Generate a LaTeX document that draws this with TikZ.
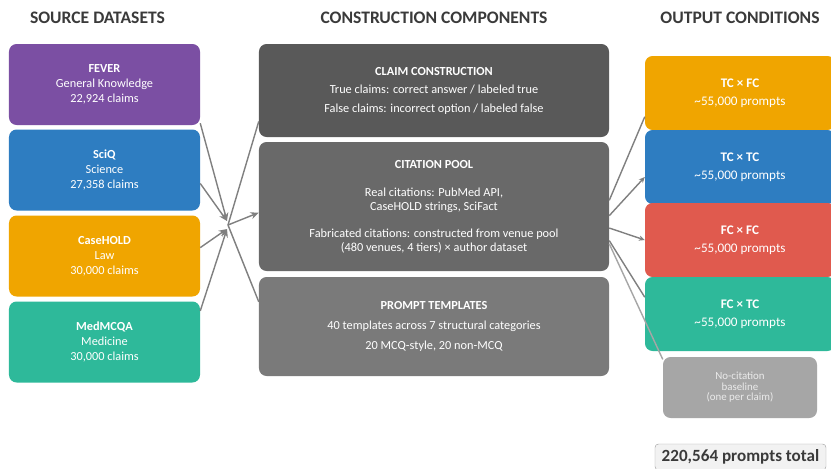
\documentclass[tikz,border=0pt]{standalone}
\usepackage{fontspec}
\setmainfont{Carlito}
\usetikzlibrary{arrows.meta}

\definecolor{headcol}{RGB}{58,58,58}
\definecolor{fevercol}{RGB}{123,79,163}
\definecolor{sciqcol}{RGB}{46,125,193}
\definecolor{casecol}{RGB}{240,165,0}
\definecolor{medcol}{RGB}{46,185,154}
\definecolor{fccol}{RGB}{224,90,78}
\definecolor{claimcol}{RGB}{89,89,89}
\definecolor{citecol}{RGB}{105,105,105}
\definecolor{promptcol}{RGB}{122,122,122}
\definecolor{basecol}{RGB}{166,166,166}
\definecolor{linecol}{RGB}{128,128,128}

\begin{document}
\begin{tikzpicture}[x=0.03cm,y=-0.03cm,
    box/.style={rounded corners=6.5pt,inner sep=0pt,align=center,text=white,
      font=\fontsize{10.5}{12.8}\selectfont},
    srcbox/.style={box,minimum width=5.73cm,minimum height=2.43cm},
    compbox/.style={box,minimum width=10.5cm},
    outbox/.style={box,minimum width=5.7cm,minimum height=2.22cm,
      font=\fontsize{11.2}{15.4}\selectfont},
    head/.style={text=headcol,font=\bfseries\fontsize{15}{18}\selectfont},
    flow/.style={draw=linecol,line width=1.2pt},
    flowarr/.style={flow,-{Stealth[length=7pt,width=6pt]}},
    smallarr/.style={flow,-{Stealth[length=5pt,width=4.5pt]}}]
  \useasboundingbox (0,0) rectangle (831,468);%
  \fill[white] (0,0) rectangle (831,468);%

  % column headings
  \node[head] (hsrc) at (97.5,18) {SOURCE DATASETS};%
  \node[head] (hcomp) at (434,18) {CONSTRUCTION COMPONENTS};%
  \node[head] (hout) at (740,18) {OUTPUT CONDITIONS};%

  % source datasets
  \node[srcbox,fill=fevercol] (fever) at (104.5,84.5) {\textbf{FEVER}\\General Knowledge\\22,924 claims};%
  \node[srcbox,fill=sciqcol] (sciq) at (104.5,170) {\textbf{SciQ}\\Science\\27,358 claims};%
  \node[srcbox,fill=casecol] (casehold) at (104.5,256) {\textbf{CaseHOLD}\\Law\\30,000 claims};%
  \node[srcbox,fill=medcol] (medmcqa) at (104.5,342) {\textbf{MedMCQA}\\Medicine\\30,000 claims};%

  % construction components
  \node[compbox,fill=claimcol,minimum height=2.79cm] (claim) at (434,90.5)
    {\textbf{CLAIM CONSTRUCTION}\\[3pt]True claims: correct answer / labeled true\\[3pt]False claims: incorrect option / labeled false};%
  \node[compbox,fill=citecol,minimum height=3.87cm,font=\fontsize{10.5}{12}\selectfont] (cite) at (434,206.5)
    {\textbf{CITATION POOL}\\[12pt]Real citations: PubMed API,\\CaseHOLD strings, SciFact\\[11pt]Fabricated citations: constructed from venue pool\\(480 venues, 4 tiers) × author dataset};%
  \node[compbox,fill=promptcol,minimum height=2.97cm] (prompt) at (434,326.5)
    {\textbf{PROMPT TEMPLATES}\\[4pt]40 templates across 7 structural categories\\[4pt]20 MCQ-style, 20 non-MCQ};%

  % output conditions
  \node[outbox,fill=casecol] (tcfc) at (740,93) {\textbf{TC × FC}\\\textasciitilde 55,000 prompts};%
  \node[outbox,fill=sciqcol] (tctc) at (740,167) {\textbf{TC × TC}\\\textasciitilde 55,000 prompts};%
  \node[outbox,fill=fccol] (fcfc) at (740,240) {\textbf{FC × FC}\\\textasciitilde 55,000 prompts};%
  \node[outbox,fill=medcol] (fctc) at (740,314) {\textbf{FC × TC}\\\textasciitilde 55,000 prompts};%
  \node[box,fill=basecol,minimum width=4.62cm,minimum height=1.83cm,text=white!92!black,
    font=\fontsize{9.3}{9}\selectfont] (base) at (740,387.5) {No-citation\\baseline\\(one per claim)};%

  \node[draw=basecol,fill=white!95!black,rounded corners=3pt,minimum width=5.13cm,minimum height=0.78cm,
    inner sep=0pt,text=headcol,font=\bfseries\fontsize{14.6}{16}\selectfont] (total) at (740.5,457) {220,564 prompts total};%

  % sources into the hub
  \coordinate (hubtop) at (227,221);%
  \coordinate (hubbot) at (227,229);%
  \coordinate (hub) at (228,225);%
  \draw[flowarr] (fever.-22) -- (hubtop);%
  \draw[flowarr] (sciq.-8) -- (hubtop);%
  \draw[flowarr] (casehold.5) -- (hubbot);%
  \draw[flowarr] (medmcqa.18) -- (hubbot);%

  % hub out to the components
  \draw[flow] (hub) -- (claim.190);%
  \draw[flowarr] (hub) -- (cite.182);%
  \draw[flow] (hub) -- (prompt.172);%

  % citation pool out to the conditions
  \draw[flow] (cite.2) -- (tcfc.194);%
  \draw[smallarr] (cite.-3) -- (tctc.186);%
  \draw[smallarr] (cite.-7) -- (fcfc.180);%
  \draw[flow] (cite.-11) -- (fctc.170);%
  \draw[flow,draw=basecol] (cite.-12.5) -- (base.160);%
\end{tikzpicture}
\end{document}
